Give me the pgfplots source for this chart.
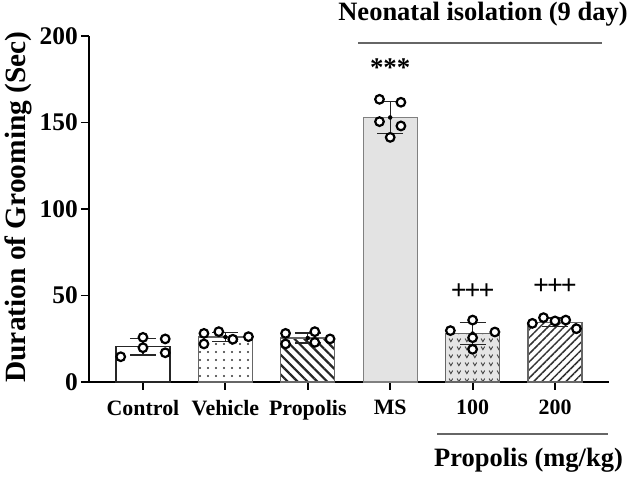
\documentclass[border=0pt]{standalone}
\usepackage{fontspec}
\setmainfont{Liberation Serif}
\usepackage{pgfplots}
\pgfplotsset{compat=1.18}
\usetikzlibrary{patterns,patterns.meta}

\tikzdeclarepattern{name=vees, type=uncolored,
  bottom left={(0bp,0bp)}, top right={(8bp,8bp)}, tile size={(8bp,8bp)},
  code={\draw[line width=1bp] (1.2bp,6bp)--(3.2bp,2.6bp)--(5.2bp,6bp);}}

\pgfplotstableread{
x y e
0 20.4 4.8
1 26.0 2.5
2 25.4 2.9
3 152.9 9.1
4 28.0 6.3
5 34.6 2.4
}\means

\pgfplotstableread{
x y
-0.27 14.6
0.00 25.8
0.00 19.8
0.27 24.9
0.27 16.9
0.74 28.1
0.74 22.0
0.92 29.1
1.09 24.7
1.28 26.2
1.73 28.1
1.73 22.0
2.085 29.1
2.085 22.9
2.27 24.9
2.87 163.4
3.13 161.7
2.87 150.5
3.13 148.0
3.00 141.4
3.73 29.7
4.00 35.8
4.00 25.6
4.00 18.9
4.27 28.9
4.725 33.9
4.86 37.2
5.00 35.3
5.13 35.8
5.26 30.8
}\points

\begin{document}
\begin{tikzpicture}
\begin{axis}[
  at={(89bp,98bp)}, anchor=south west,
  width=520bp, height=346bp, scale only axis,
  xmin=-0.655, xmax=5.655, ymin=0, ymax=200,
  axis x line=bottom, axis y line=left,
  axis line style={-, line width=2bp, black},
  xtick={0,1,2,3,4,5},
  xticklabels={Control,Vehicle,Propolis,MS,100,200},
  ytick={0,50,100,150,200},
  tick align=outside,
  major tick length=8bp,
  tick style={line width=1.8bp, black},
  /pgf/number format/assume math mode=true,
  xticklabel style={font=\fontsize{22}{24}\selectfont\bfseries, inner sep=3bp, yshift=-7bp},
  yticklabel style={font=\fontsize{25.5}{28}\selectfont\bfseries, inner sep=3bp},
  ylabel={Duration of Grooming (Sec)},
  every axis y label/.style={at={(axis description cs:-0.1365,0.506)}, rotate=90, anchor=center,
    font=\fontsize{29.5}{31}\selectfont\bfseries},
  clip=false,
]
% bars
\addplot[ybar, bar width=0.655, bar shift=0pt, draw=black!85, line width=1.2bp, fill=white]
  coordinates {(0,20.4)};
\addplot[ybar, bar width=0.655, bar shift=0pt, draw=black!60, line width=1.2bp,
  pattern={Dots[distance=8bp, radius=1.1bp]}, pattern color=black!80]
  coordinates {(1,26.0)};
\addplot[ybar, bar width=0.655, bar shift=0pt, draw=black!60, line width=1.2bp,
  pattern={Lines[angle=-45, distance=7bp, line width=2.2bp]}, pattern color=black!85]
  coordinates {(2,25.4)};
\addplot[ybar, bar width=0.655, bar shift=0pt, draw=black!50, line width=1.2bp, fill=black!11]
  coordinates {(3,152.9)};
\addplot[ybar, bar width=0.655, bar shift=0pt, draw=black!60, line width=1.2bp, fill=black!10,
  postaction={pattern=vees, pattern color=black!75}]
  coordinates {(4,28.0)};
\addplot[ybar, bar width=0.655, bar shift=0pt, draw=black!60, line width=1.2bp,
  pattern={Lines[angle=45, distance=5.7bp, line width=1.5bp]}, pattern color=black!80]
  coordinates {(5,34.6)};
% error bars
\addplot[only marks, mark=none,
  error bars/.cd, y dir=both, y explicit,
  error bar style={line width=1.2bp, black!85},
  error mark options={rotate=90, mark size=13bp, line width=1.2bp, black!85}]
  table[x=x, y=y, y error=e] {\means};
% points
\addplot[only marks, mark=*, mark size=4.3bp, line width=2.2bp, draw=black, fill=white,
  mark options={draw=black, fill=white}]
  table[x=x, y=y] {\points};
% annotations
\node[font=\fontsize{27}{28}\selectfont\bfseries] at (axis cs:3,182) {***};
\node[font=\fontsize{28}{29}\selectfont\bfseries] at (axis cs:4,52.2) {+\kern-2bp+\kern-2bp+};
\node[font=\fontsize{28}{29}\selectfont\bfseries] at (axis cs:5,55.1) {+\kern-2bp+\kern-2bp+};
\end{axis}
% group labels
\draw[line width=2bp, black!60] (358bp,437bp) -- (602bp,437bp);
\node[anchor=base, font=\fontsize{26.6}{28}\selectfont\bfseries] at (483bp,459bp) {Neonatal isolation (9 day)};
\draw[line width=2bp, black!60] (437bp,46bp) -- (608bp,46bp);
\node[anchor=base, font=\fontsize{26.6}{28}\selectfont\bfseries] at (528.5bp,13.3bp) {Propolis (mg/kg)};
\pgfresetboundingbox
\useasboundingbox (0,0) rectangle (632bp,480bp);
\end{tikzpicture}
\end{document}
